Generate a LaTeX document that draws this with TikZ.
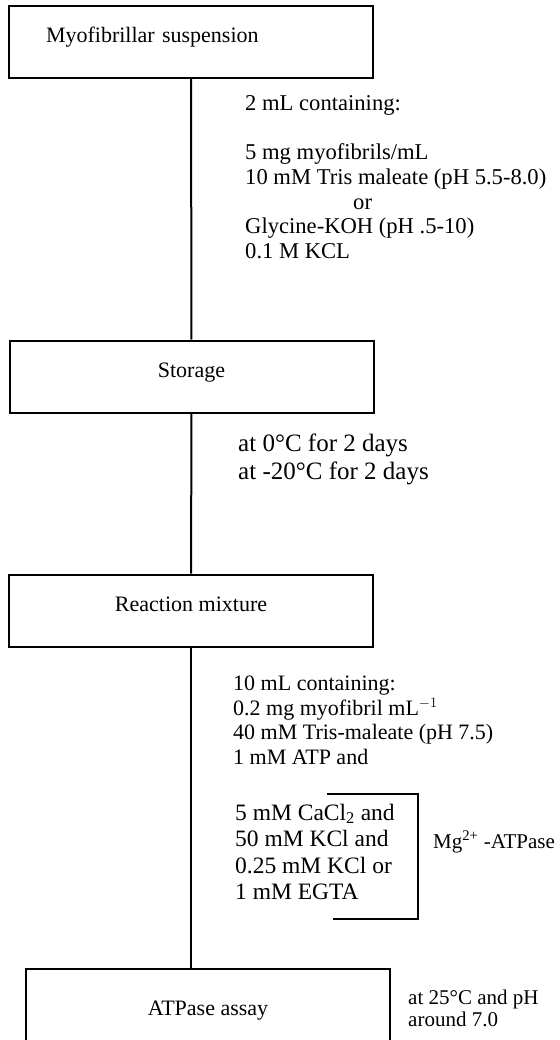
\documentclass[tikz,border=0pt]{standalone}
\usepackage{fontspec}
\setmainfont{Liberation Serif}
\usetikzlibrary{positioning}
\tikzset{
  stepbox/.style={
    draw,
    line width=2pt,
    minimum width=364,
    minimum height=72,
    inner sep=0pt,
    text height=16pt,
    text depth=14pt,
    font=\fontsize{22}{25}\selectfont
  },
  notetext/.style={
    align=left,
    inner sep=0pt,
    anchor=north west,
    font=\fontsize{22}{24.5}\selectfont
  },
  link/.style={line width=2pt}
}

\begin{document}
\begin{tikzpicture}[x=1pt,y=-1pt]
  \useasboundingbox (0,0) rectangle (559,1040);
  \clip (0,0) rectangle (559,1040);
  \node[stepbox, text width=290, align=left] (suspension) at (191,42)
    {Myofibrillar suspension};
  \node[stepbox] (storage) at (191.5,376.5) {Storage};
  \node[stepbox] (reaction) at (191,610.5) {Reaction mixture};
  \node[stepbox, minimum height=90] (assay) at (208,1014) {ATPase assay};
  \node[notetext, font=\fontsize{22.6}{24.8}\selectfont] (suspnote) at (245,95)
    {2 mL containing:\\[24.5pt]
     5 mg myofibrils/mL\\
     10 mM Tris maleate (pH 5.5-8.0)\\
     \hspace*{108pt}or\\
     Glycine-KOH (pH .5-10)\\
     0.1 M KCL};
  \node[notetext, font=\fontsize{25}{28}\selectfont] (storenote) at (238,433.5)
    {at 0°C for 2 days\\
     at -20°C for 2 days};
  \node[notetext] (mixnote) at (233,676)
    {10 mL containing:\\
     0.2 mg myofibril mL$^{-1}$\\
     40 mM Tris-maleate (pH 7.5)\\
     1 mM ATP and};
  \node[notetext, font=\fontsize{23.5}{26.5}\selectfont] (ionnote) at (235,803.5)
    {5 mM CaCl\textsubscript{2} and\\
     50 mM KCl and\\
     0.25 mM KCl or\\
     1 mM EGTA};
  \node[anchor=west, inner sep=0pt, font=\fontsize{21}{24}\selectfont] (mgnote) at (433,842)
    {Mg\textsuperscript{2+} -ATPase};
  \node[notetext, font=\fontsize{21}{22}\selectfont] (assaynote) at (408,989.5)
    {at 25°C and pH\\
     around 7.0};
  \draw[link] (suspension) -- (storage);
  \draw[link] (storage) -- (reaction);
  \draw[link] (reaction.south) -- (reaction.south |- assay.north);
  \draw[link] (327,794) -- (418,794) -- (418,919) -- (333,919);
\end{tikzpicture}
\end{document}
